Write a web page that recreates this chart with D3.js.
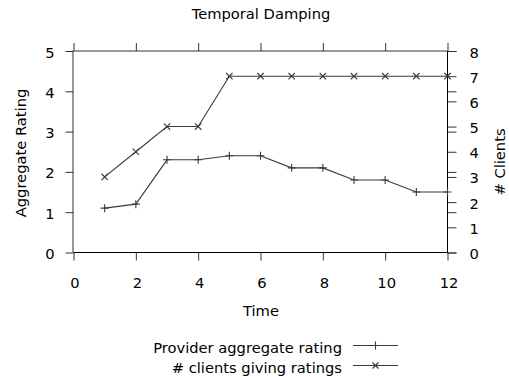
<!DOCTYPE html>
<html>
<head>
<meta charset="utf-8">
<script src="https://cdn.jsdelivr.net/npm/d3@7"></script>
<style>
  html, body { margin: 0; padding: 0; background: #fff; }
  svg text { font-family: "DejaVu Sans", Verdana, sans-serif; font-size: 14.7px; fill: #000; }
</style>
</head>
<body>
<svg id="chart" width="509" height="377"></svg>
<script>
const time = [1, 2, 3, 4, 5, 6, 7, 8, 9, 10, 11, 12];
const rating = [1.1, 1.2, 2.3, 2.3, 2.4, 2.4, 2.1, 2.1, 1.8, 1.8, 1.5, 1.5];
const clients = [3, 4, 5, 5, 7, 7, 7, 7, 7, 7, 7, 7];
const xTicks = [0, 2, 4, 6, 8, 10, 12];
const y1Ticks = [0, 1, 2, 3, 4, 5];
const y2Ticks = [0, 1, 2, 3, 4, 5, 6, 7, 8];
const legendLabels = ["Provider aggregate rating", "# clients giving ratings"];

const svg = d3.select("#chart");
const L = 73.5, R = 447.5, T = 51, B = 252.5;
const x = d3.scaleLinear().domain([0, 12]).range([L, R]);
const y1 = d3.scaleLinear().domain([0, 5]).range([B, T]);
const y2 = d3.scaleLinear().domain([0, 8]).range([B, T]);
const TL = 8;
const lineColor = "#3a3a3a";

function style(g) {
  g.select(".domain").remove();
  g.selectAll(".tick line").attr("stroke", "#333").attr("stroke-width", 1);
}

// bottom axis
svg.append("g").attr("transform", `translate(0,${B})`)
  .call(d3.axisBottom(x).tickValues(xTicks).tickSize(TL).tickPadding(0).tickFormat(d3.format("d")))
  .call(style)
  .call(g => g.selectAll("text").attr("y", 0).attr("dy", "35px").attr("dx", "1px"));
// top mirror ticks
svg.append("g").attr("transform", `translate(0,${T})`)
  .call(d3.axisTop(x).tickValues(xTicks).tickSize(TL).tickFormat(""))
  .call(style);
// left axis
svg.append("g").attr("transform", `translate(${L},0)`)
  .call(d3.axisLeft(y1).tickValues(y1Ticks).tickSize(TL).tickPadding(11).tickFormat(d3.format("d")))
  .call(style)
  .call(g => g.selectAll("text").attr("dy", "6px"));
// right axis (y2)
svg.append("g").attr("transform", `translate(${R},0)`)
  .call(d3.axisRight(y2).tickValues(y2Ticks).tickSize(9).tickPadding(13).tickFormat(d3.format("d")))
  .call(style)
  .call(g => g.selectAll("text").attr("dy", "6px"));
// mirrored y1 ticks on right side
svg.append("g").attr("transform", `translate(${R},0)`)
  .call(d3.axisRight(y1).tickValues(y1Ticks).tickSize(9).tickFormat(""))
  .call(style);

// border
svg.append("line").attr("x1", L - 0.5).attr("x2", L - 0.5).attr("y1", T - 0.5).attr("y2", B).attr("stroke", "#333");
svg.append("line").attr("x1", L).attr("x2", R).attr("y1", T).attr("y2", T).attr("stroke", "#333");
svg.append("line").attr("x1", L).attr("x2", R).attr("y1", B).attr("y2", B).attr("stroke", "#000");
svg.append("line").attr("x1", R).attr("x2", R).attr("y1", T).attr("y2", B).attr("stroke", "#000");

// series
const line1 = d3.line().x((d, i) => x(time[i])).y(d => y1(d));
const line2 = d3.line().x((d, i) => x(time[i])).y(d => y2(d));
svg.append("path").datum(rating).attr("d", line1).attr("fill", "none").attr("stroke", lineColor).attr("stroke-width", 1.1);
svg.append("path").datum(clients).attr("d", line2).attr("fill", "none").attr("stroke", lineColor).attr("stroke-width", 1.1);

function plus(g, cx, cy, s) {
  g.append("path").attr("d", `M${cx - s},${cy}H${cx + s}M${cx},${cy - s}V${cy + s}`)
    .attr("stroke", lineColor).attr("stroke-width", 1.1).attr("fill", "none");
}
function cross(g, cx, cy, s) {
  g.append("path").attr("d", `M${cx - s},${cy - s}L${cx + s},${cy + s}M${cx - s},${cy + s}L${cx + s},${cy - s}`)
    .attr("stroke", lineColor).attr("stroke-width", 1.1).attr("fill", "none");
}
const pts = svg.append("g");
rating.forEach((v, i) => plus(pts, x(time[i]), y1(v), 4));
clients.forEach((v, i) => cross(pts, x(time[i]), y2(v), 3.2));

// title & axis labels
svg.append("text").attr("x", 261).attr("y", 19).attr("text-anchor", "middle").text("Temporal Damping");
svg.append("text").attr("x", 261).attr("y", 316).attr("text-anchor", "middle").text("Time");
svg.append("text").attr("transform", "translate(26,153) rotate(-90)").attr("text-anchor", "middle").text("Aggregate Rating");
svg.append("text").attr("transform", "translate(505,162) rotate(-90)").attr("text-anchor", "middle").text("# Clients");

// legend
const lg = svg.append("g");
const ly = [345.5, 365.5];
legendLabels.forEach((t, i) => {
  lg.append("text").attr("x", 342).attr("y", ly[i] + 7.5).attr("text-anchor", "end").text(t);
  lg.append("line").attr("x1", 353).attr("x2", 398).attr("y1", ly[i]).attr("y2", ly[i]).attr("stroke", lineColor).attr("stroke-width", 1.1);
  if (i === 0) plus(lg, 375.5, ly[i], 4); else cross(lg, 375.5, ly[i], 3);
});
</script>
</body>
</html>
